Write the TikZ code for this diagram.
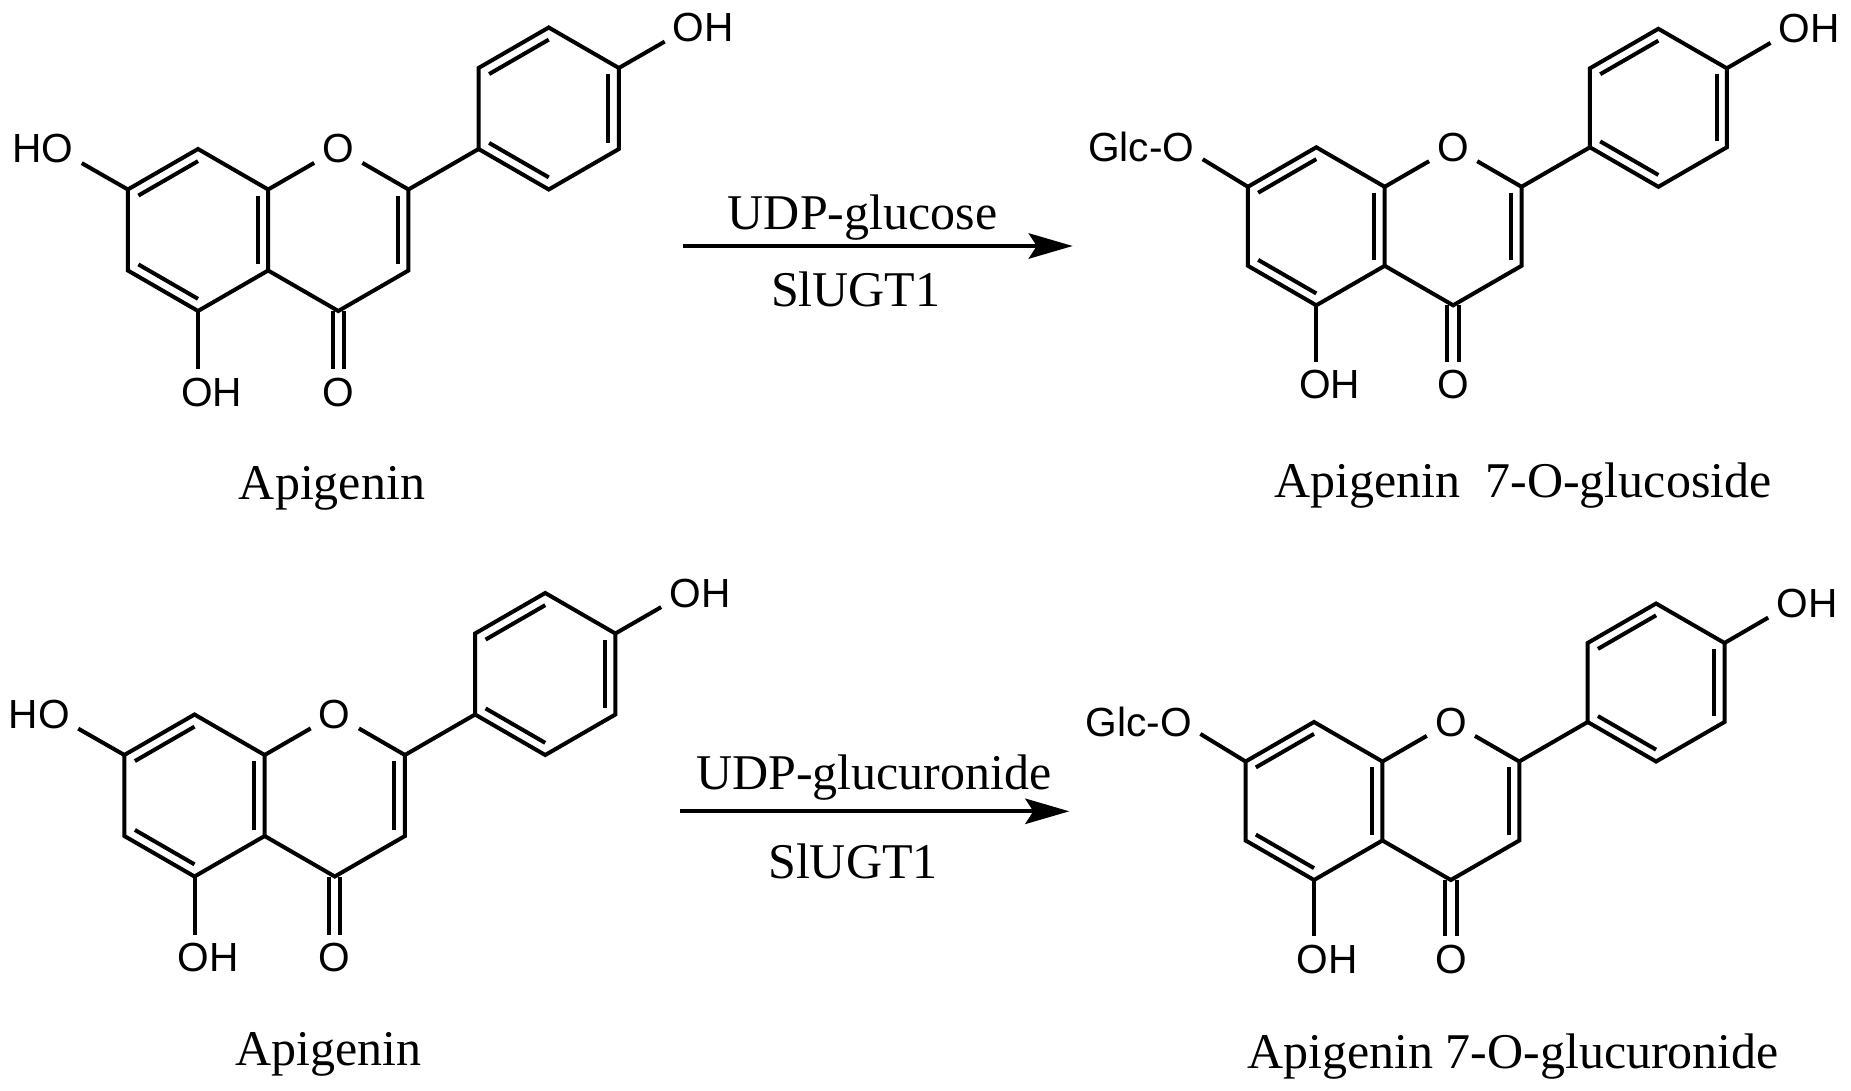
\documentclass[tikz,border=0pt]{standalone}
\usepackage{fontspec}
\setmainfont{Liberation Serif}
\newfontfamily\atomfont{Liberation Sans}
\usetikzlibrary{calc}
\usetikzlibrary{arrows.meta}

\tikzset{
    bond/.style={line width=3pt},
    dblbond/.style={line width=3pt,double,double distance=5.5pt},
    atom/.style={inner sep=6pt,font=\atomfont\fontsize{30.5}{36}\selectfont},
    caption/.style={inner sep=0pt,anchor=base,font=\fontsize{37.5}{44}\selectfont},
    reaction/.style={line width=3pt,-{Stealth[length=33pt,width=19pt,inset=6pt]}},
}

% inner stroke of a ring double bond: #1 and #2 the ring atoms, #3 the ring centre
\newcommand{\innerbond}[3]{\draw[bond] ($(#1)!.15!(#3)$) -- ($(#2)!.15!(#3)$);}

% #1 name, #2 #3 centre of the left ring, #4 bond length,
% #5 group at C7, #6 its x offset, #7 anchor angle for its bond
\newcommand{\flavone}[7]{
    \begin{scope}[shift={(#2,#3)},x=#4*0.75pt,y=-#4*0.75pt]
        \coordinate (#1ringa) at (0,0);
        \coordinate (#1ringb) at (1.732,0);
        \coordinate (#1ringc) at (4.33,-1.5);
        \coordinate (#1c7) at (-0.866,-0.5);
        \coordinate (#1c8) at (0,-1);
        \coordinate (#1c8a) at (0.866,-0.5);
        \coordinate (#1c4a) at (0.866,0.5);
        \coordinate (#1c5) at (0,1);
        \coordinate (#1c6) at (-0.866,0.5);
        \coordinate (#1c2) at (2.598,-0.5);
        \coordinate (#1c3) at (2.598,0.5);
        \coordinate (#1c4) at (1.732,1);
        \coordinate (#1ci) at (3.464,-1);
        \coordinate (#1co) at (3.464,-2);
        \coordinate (#1cm) at (4.33,-2.5);
        \coordinate (#1cp) at (5.196,-2);
        \coordinate (#1cq) at (5.196,-1);
        \coordinate (#1cr) at (4.33,-0.5);
        \node[atom] (#1oa) at (1.732,-1) {O};
        \node[atom] (#1ob) at (1.732,2) {O};
        \node[atom] (#1oh) at (0.17,2) {OH};
        \node[atom] (#1ohp) at (6.24,-2.5) {OH};
        \node[atom] (#1sub) at (#6,-1) {#5};
        \draw[dblbond] (#1c4) -- (#1c4 |- #1ob.north);
        \draw[bond] (#1c7) -- (#1c8) -- (#1c8a) -- (#1c4a) -- (#1c5) -- (#1c6) -- cycle;
        \draw[bond] (#1c8a) -- (#1oa) -- (#1c2) -- (#1c3) -- (#1c4) -- (#1c4a);
        \draw[bond] (#1ci) -- (#1co) -- (#1cm) -- (#1cp) -- (#1cq) -- (#1cr) -- cycle;
        \draw[bond] (#1c2) -- (#1ci);
        \draw[bond] (#1c5) -- (#1c5 |- #1oh.north);
        \draw[bond] (#1cp) -- (#1ohp.200);
        \draw[bond] (#1c7) -- (#1sub.#7);
        \innerbond{#1c7}{#1c8}{#1ringa}
        \innerbond{#1c8a}{#1c4a}{#1ringa}
        \innerbond{#1c5}{#1c6}{#1ringa}
        \innerbond{#1c2}{#1c3}{#1ringb}
        \innerbond{#1co}{#1cm}{#1ringc}
        \innerbond{#1cp}{#1cq}{#1ringc}
        \innerbond{#1ci}{#1cr}{#1ringc}
    \end{scope}
}

\begin{document}
\begin{tikzpicture}[x=0.75pt,y=-0.75pt]
    \useasboundingbox (0,0) rectangle (1851,1091);

    \flavone{a}{198}{230}{81}{HO}{-1.914}{340}
    \flavone{b}{1316.3}{226.3}{79}{Glc-O}{-2.215}{349}
    \flavone{c}{194.5}{795.5}{81}{HO}{-1.914}{340}
    \flavone{d}{1314}{801}{79}{Glc-O}{-2.215}{349}

    \node[caption] (namea) at (332,499) {Apigenin};
    \node[caption] (nameb) at (1523,497.5) {Apigenin\ \ 7-O-glucoside};
    \node[caption] (namec) at (328.7,1065.7) {Apigenin};
    \node[caption] (named) at (1513,1068) {Apigenin 7-O-glucuronide};

    \coordinate (starta) at (683.3,246);
    \coordinate (enda) at (1072.7,246);
    \draw[reaction] (starta) -- (enda);
    \node[caption] (donora) at (862.5,229.3) {UDP-glucose};
    \node[caption] (enzymea) at (855.8,306) {SlUGT1};

    \coordinate (startb) at (680,811.3);
    \coordinate (endb) at (1069.3,811.3);
    \draw[reaction] (startb) -- (endb);
    \node[caption] (donorb) at (873.8,789.3) {UDP-glucuronide};
    \node[caption] (enzymeb) at (853,878.3) {SlUGT1};
\end{tikzpicture}
\end{document}
